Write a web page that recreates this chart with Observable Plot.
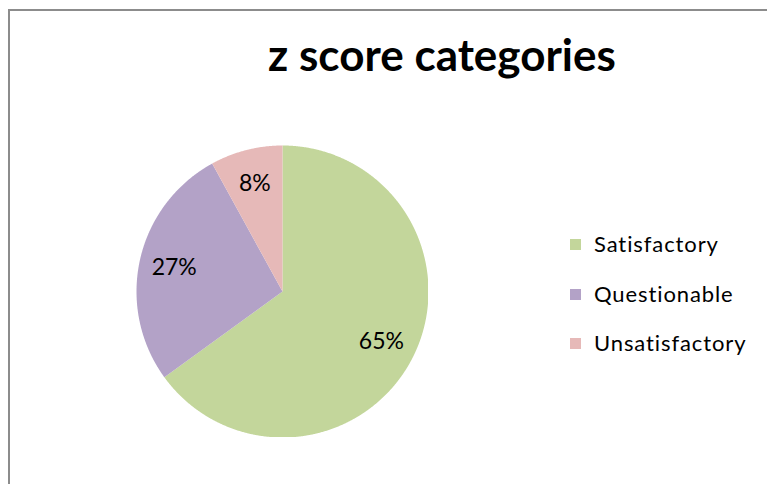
<!DOCTYPE html>
<html>
<head>
<meta charset="utf-8">
<script src="https://cdn.jsdelivr.net/npm/d3@7"></script>
<script src="https://cdn.jsdelivr.net/npm/@observablehq/plot@0.6"></script>
<style>
  html, body { margin: 0; padding: 0; background: #fff; overflow: hidden; }
  #wrap { position: absolute; left: 0; top: 0; width: 767px; height: 484px; overflow: hidden; font-family: Lato, "Open Sans", sans-serif; }
  #topline { position: absolute; left: 8px; top: 9px; width: 759px; height: 2px; background: #8c8c8c; }
  #leftline { position: absolute; left: 8px; top: 9px; width: 2px; height: 475px; background: #8c8c8c; }
  #title { position: absolute; left: 442px; top: 32px; transform: translateX(-50%); white-space: nowrap; font-weight: 700; font-size: 44px; line-height: 1; color: #000; }
  #pie { position: absolute; left: 136px; top: 145px; }
  #legend { position: absolute; left: 570px; top: 0; }
  .item { position: absolute; left: 0; white-space: nowrap; font-size: 22px; letter-spacing: 0.9px; line-height: 1; color: #000; display: flex; align-items: center; }
  .sw { width: 11px; height: 11px; margin-right: 13px; }
</style>
</head>
<body>
<div id="wrap">
<div id="topline"></div>
<div id="leftline"></div>
<div id="title"></div>
<div id="pie"></div>
<div id="legend"></div>
</div>
<script>
const titleText = "z score categories";
const categories = ["Satisfactory", "Questionable", "Unsatisfactory"];
const percents = [65, 27, 8];
const labels = ["65%", "27%", "8%"];
const colors = ["#c3d69b", "#b3a2c7", "#e6b9b8"];

document.getElementById("title").textContent = titleText;

const data = categories.map((c, i) => ({category: c, value: percents[i], label: labels[i]}));
const arcs = d3.pie().sort(null).value(d => d.value)(data);

function sliceFeature(a) {
  const n = Math.max(2, Math.ceil((a.endAngle - a.startAngle) / 0.005));
  const ring = [[0, 0]];
  for (let k = 0; k <= n; k++) {
    const t = a.startAngle + (a.endAngle - a.startAngle) * k / n;
    ring.push([Math.sin(t), Math.cos(t)]);
  }
  ring.push([0, 0]);
  return {type: "Feature", properties: {category: a.data.category}, geometry: {type: "Polygon", coordinates: [ring]}};
}
const features = arcs.map(sliceFeature);
const mid = a => (a.startAngle + a.endAngle) / 2;
const labelR = 0.76;

const R = 146;
const chart = Plot.plot({
  width: 2 * R,
  height: 2 * R,
  margin: 0,
  projection: {type: "reflect-y", domain: {type: "Polygon", coordinates: [[[-1, -1], [1, -1], [1, 1], [-1, 1], [-1, -1]]]}},
  color: {domain: categories, range: colors},
  marks: [
    Plot.geo(features, {fill: d => d.properties.category}),
    Plot.text(arcs, {
      x: a => labelR * Math.sin(mid(a)),
      y: a => labelR * Math.cos(mid(a)),
      text: a => a.data.label,
      fontSize: 23,
      fill: "#000",
      fontFamily: "Lato, 'Open Sans', sans-serif"
    })
  ]
});
document.getElementById("pie").appendChild(chart);

const legendY = [244, 294, 343];
const legend = document.getElementById("legend");
categories.forEach((c, i) => {
  const item = document.createElement("div");
  item.className = "item";
  item.style.top = (legendY[i] - 12) + "px";
  item.style.height = "24px";
  const sw = document.createElement("span");
  sw.className = "sw";
  sw.style.background = colors[i];
  const tx = document.createElement("span");
  tx.textContent = c;
  item.appendChild(sw);
  item.appendChild(tx);
  legend.appendChild(item);
});
</script>
</body>
</html>
